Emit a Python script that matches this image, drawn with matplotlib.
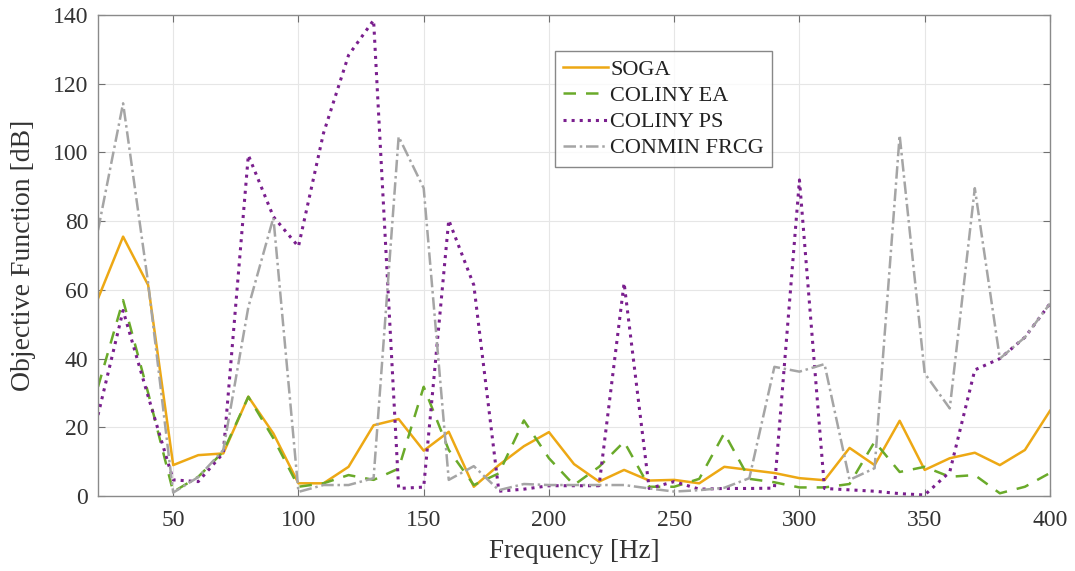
import matplotlib
matplotlib.use("Agg")
import matplotlib.pyplot as plt

freq = list(range(20, 401, 10))

soga = [57.5, 75.5, 61.4, 9.0, 11.9, 12.4, 28.9, 18.2, 3.7, 3.7,
        8.5, 20.6, 22.4, 13.2, 18.7, 2.7, 9.0, 14.5, 18.6, 9.3,
        4.2, 7.6, 4.5, 4.7, 3.7, 8.5, 7.6, 6.7, 5.2, 4.6,
        14.0, 9.0, 21.9, 7.6, 11.0, 12.6, 9.0, 13.4, 24.8]

coliny_ea = [31.8, 57.0, 30.0, 1.2, 5.6, 12.9, 28.9, 16.8, 2.7, 3.7,
             6.1, 4.7, 8.0, 31.8, 13.4, 3.2, 6.6, 22.0, 11.0, 3.2,
             8.5, 15.8, 2.7, 2.7, 5.0, 18.3, 5.0, 4.0, 2.5, 2.5,
             3.5, 15.8, 7.0, 8.5, 5.6, 6.1, 0.8, 2.7, 6.7]

coliny_ps = [23.6, 54.0, 29.0, 4.7, 4.2, 12.5, 99.2, 81.3, 72.6, 105.6,
             128.3, 138.5, 2.2, 2.6, 80.3, 61.4, 1.4, 2.0, 3.0, 3.0,
             3.0, 62.0, 2.2, 4.2, 2.0, 2.2, 2.2, 2.3, 92.0, 2.2,
             1.8, 1.4, 0.7, 0.3, 7.0, 36.7, 40.0, 46.2, 56.0]

conmin_frcg = [77.4, 114.3, 62.0, 1.0, 5.5, 13.4, 55.0, 81.0, 1.2, 3.2,
               3.2, 5.2, 104.6, 89.6, 4.7, 8.7, 1.7, 3.5, 3.2, 3.2,
               3.2, 3.2, 2.2, 1.3, 1.7, 2.4, 5.2, 37.6, 36.2, 38.4,
               4.7, 8.1, 105.0, 35.7, 25.5, 89.6, 40.0, 46.2, 56.0]

plt.rcParams["font.family"] = ["Liberation Serif", "DejaVu Serif"]

fig = plt.figure(figsize=(10.75, 5.71), dpi=100)
ax = fig.add_axes([0.0912, 0.1313, 0.8855, 0.8424])

ax.plot(freq, soga, "-", color="#EDA814", linewidth=1.8, label="SOGA")
ax.plot(freq, coliny_ea, "--", color="#6AAA2A", linewidth=1.8,
        dashes=(5, 4), label="COLINY EA")
ax.plot(freq, coliny_ps, ":", color="#7A1F8E", linewidth=2.2, label="COLINY PS")
ax.plot(freq, conmin_frcg, "-.", color="#A5A5A5", linewidth=1.8,
        dashes=(5, 1.5, 1, 1.5), label="CONMIN FRCG")

ax.set_xlim(20, 400)
ax.set_ylim(0, 140)
ax.set_xticks(range(50, 401, 50))
ax.set_yticks(range(0, 141, 20))
ax.grid(True, color="#E6E6E6", linewidth=0.8)
ax.set_axisbelow(True)

for sp in ax.spines.values():
    sp.set_color("#8A8A8A")
    sp.set_linewidth(1.0)
ax.tick_params(direction="in", top=True, right=True, length=5,
               color="#707070", labelcolor="#333333", labelsize=17)
ax.tick_params(axis="x", pad=10)
ax.tick_params(axis="y", pad=7)

ax.set_xlabel("Frequency [Hz]", fontsize=19.5, color="#333333", labelpad=6)
ax.set_ylabel("Objective Function [dB]", fontsize=20, color="#333333", labelpad=12)

leg = ax.legend(loc="upper left", bbox_to_anchor=(0.48, 0.925), fontsize=16,
                frameon=True, fancybox=False, handlelength=2.0,
                handletextpad=0.1, borderpad=0.38, labelspacing=0.25,
                borderaxespad=0)
leg.get_frame().set_edgecolor("#6A6A6A")
leg.get_frame().set_linewidth(1.0)
for t in leg.get_texts():
    t.set_color("#222222")

fig.savefig("out.png", dpi=100)
